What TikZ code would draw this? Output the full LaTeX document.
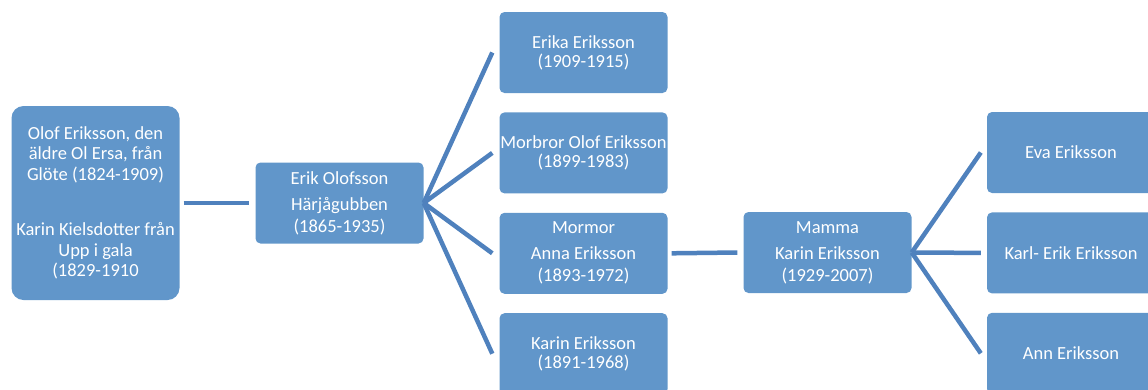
\documentclass[tikz,border=0pt]{standalone}
\usepackage{fontspec}
\setmainfont{Carlito}
\usepackage{tikz}
\usetikzlibrary{positioning}

\definecolor{boxblue}{HTML}{6196CA}
\definecolor{lineblue}{HTML}{4F81BD}

\begin{document}
\begin{tikzpicture}[x=1pt, y=-1pt,
    person/.style={fill=boxblue, text=white, rounded corners=5pt, align=center,
                   minimum width=168pt, minimum height=81pt, inner sep=0pt,
                   font=\fontsize{18.5}{19}\selectfont},
    link/.style={draw=lineblue, line width=4.5pt}]
  \useasboundingbox (0,0) rectangle (1148,389);

  \node (1) [person, rounded corners=12pt, minimum height=194pt,
             font=\fontsize{18.5}{20.5}\selectfont] at (95.5,203)
        {Olof Eriksson, den\\ äldre Ol Ersa, från\\ Glöte (1824-1909)\\[35pt]
         Karin Kielsdotter från\\ Upp i gala\\ (1829-1910};
  \node (2) [person] at (339.5,203) {Erik Olofsson\\[7pt] Härjågubben\\[3pt] (1865-1935)};
  \node (3) [person] at (583.5,52.5) {Erika Eriksson\\ (1909-1915)};
  \node (4) [below=19pt of 3, person] {Morbror Olof Eriksson\\ (1899-1983)};
  \node (5) [below=19pt of 4, person] {Mormor\\[7pt] Anna Eriksson\\[3pt] (1893-1972)};
  \node (6) [below=19pt of 5, person] {Karin Eriksson\\ (1891-1968)};
  \node (7) [person] at (827.5,252.5) {Mamma\\[7pt] Karin Eriksson\\[3pt] (1929-2007)};
  \node (8) [person] at (1071,152.5) {Eva Eriksson};
  \node (9) [below=19pt of 8, person] {Karl- Erik Eriksson};
  \node (10) [below=19pt of 9, person] {Ann Eriksson};

  \path[link] ([xshift=4pt]1.east) edge ([xshift=-6pt]2.west)
        ([xshift=4pt]5.east) edge ([xshift=-6pt]7.west);
  \foreach \n in {3,4,5,6}
    \draw[link] (2.east) -- ([xshift=-7pt]\n.west);
  \foreach \n in {8,9,10}
    \draw[link] (7.east) -- ([xshift=-6pt]\n.west);
\end{tikzpicture}
\end{document}
